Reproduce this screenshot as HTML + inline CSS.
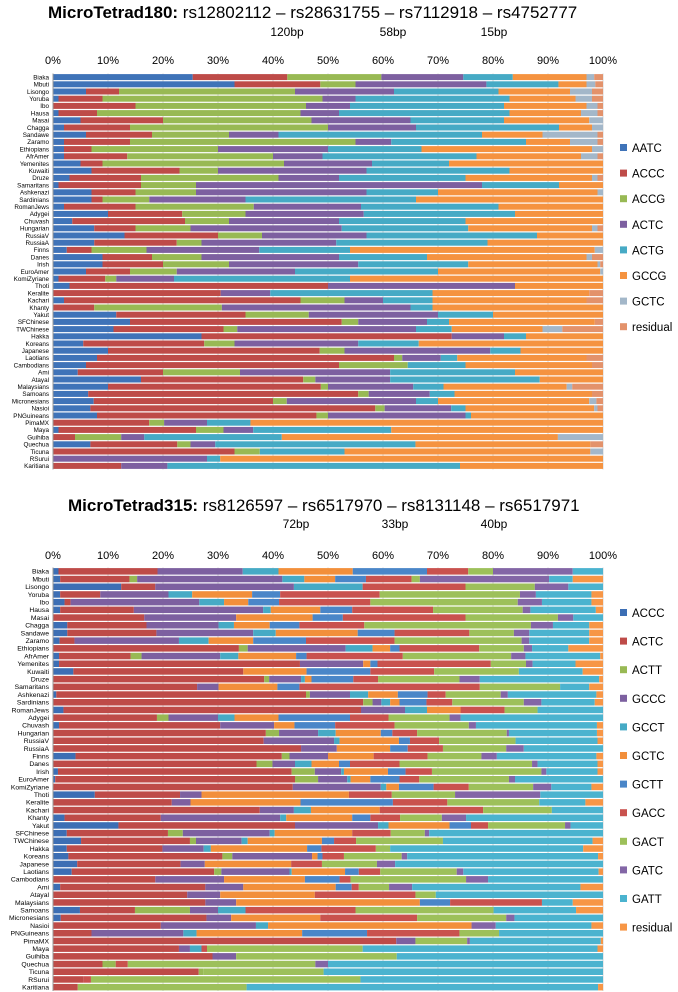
<!DOCTYPE html>
<html><head><meta charset="utf-8">
<style>
html,body{margin:0;padding:0;background:#fff;}
body{width:678px;height:992px;overflow:hidden;font-family:"Liberation Sans",sans-serif;}
svg{display:block;}
</style></head>
<body>
<svg id="chart" width="678" height="992" viewBox="0 0 678 992" xmlns="http://www.w3.org/2000/svg">
  <g>
    <text x="48" y="18" font-size="17" fill="#000"><tspan font-weight="bold">MicroTetrad180:</tspan> rs12802112 – rs28631755 – rs7112918 – rs4752777</text>
  </g>
  <g font-size="12" fill="#000" text-anchor="middle">
    <text x="287" y="36">120bp</text><text x="393" y="36">58bp</text><text x="494" y="36">15bp</text>
  </g>
  <g>
    <text x="68" y="511" font-size="17" fill="#000"><tspan font-weight="bold">MicroTetrad315:</tspan> rs8126597 – rs6517970 – rs8131148 – rs6517971</text>
  </g>
  <g font-size="12" fill="#000" text-anchor="middle">
    <text x="296" y="528">72bp</text><text x="395" y="528">33bp</text><text x="494" y="528">40bp</text>
  </g>
  <g id="c1"></g>
  <g id="c2"></g>
</svg>
<script>
const populations = ["Biaka","Mbuti","Lisongo","Yoruba","Ibo","Hausa","Masai","Chagga","Sandawe","Zaramo","Ethiopians","AfrAmer","Yemenites","Kuwaiti","Druze","Samaritans","Ashkenazi","Sardinians","RomanJews","Adygei","Chuvash","Hungarian","RussiaV","RussiaA","Finns","Danes","Irish","EuroAmer","KomiZyriane","Thoti","Keralite","Kachari","Khanty","Yakut","SFChinese","TWChinese","Hakka","Koreans","Japanese","Laotians","Cambodians","Ami","Atayal","Malaysians","Samoans","Micronesians","Nasioi","PNGuineans","PimaMX","Maya","Guihiba","Quechua","Ticuna","RSurui","Karitiana"];
const tickLabels = ["0%","10%","20%","30%","40%","50%","60%","70%","80%","90%","100%"];
const series180 = ["AATC","ACCC","ACCG","ACTC","ACTG","GCCG","GCTC","residual"];
const series315 = ["ACCC","ACTC","ACTT","GCCC","GCCT","GCTC","GCTT","GACC","GACT","GATC","GATT","residual"];
// cumulative % boundaries per population; final segment runs to 100
const cum180 = [
[25.4,42.6,59.7,74.6,83.6,97,98.4],[33,48.6,55,78.8,91.9,97,98.6],[6,12,44,62,81,94,98],
[1,9,49,55,83,95,98],[0,15,46,54,82,97,99],[1,8,45,52,83,96,99],[5,20,47,65,82,97.5,100],
[2,14,50,66,92,98,100],[6,18,32,41,78,89,99],[2,14,55,61.5,86,94,99],[2,7,30,50,67,98,100],
[2,13.5,40,49,77,96,99],[5,9,42,58,72,100,100],[7,23,30,57,83,100,100],[3,16,41,52,75,98,99],
[1,16,26,78,92,100,100],[7,15,26,57,70,99,100],[7,9,17.5,35,66,100,100],[2,15,36.5,56,81,100,100],
[10,23.5,35,56.5,84,100,100],[3.5,24,32,52,75,100,100],[7.5,15,25,52.5,75.5,98,99],[13,30,38,57,88,100,100],
[7.5,22.5,27,51.5,79,100,100],[2.5,7,17,37.5,54,98.5,100],[9,18,27,52,68,97,98],[9,20,32,55.5,75.5,99,99.5],
[6,14,22.5,44,70,99.5,100],[1,9.5,11.5,22,54,100,100],[3,50,50,84,84,100,100],[0,30.5,30.5,39.5,69,97.5,97.5],
[2,45,53,60,69,97,97],[0,7.5,30.7,65,69,100,100],[11.5,35,46.5,70,80,100,100],[14,52.5,55.5,68,72,98.5,98.5],
[11,31,33.5,66,72.5,89,92.6],[27,72.5,72.5,82,86,100,100],[5.5,27.5,33,55.5,66.5,100,100],[10,48.5,53,79.5,85,100,100],
[8,62,63.5,70.5,73.5,97,97],[6,52,64.5,64.5,75,98,98],[4.5,20,34,61.3,84,100,100],[16,45.5,47.7,61.3,88.5,100,100],
[10,48.7,50,65.5,71,93.4,94.4],[6.4,55.5,57.4,68.5,73,98,98],[7.4,40,42.5,66,70,97.5,98.8],[6.8,58.6,60.3,72.4,75,98.4,99],
[8,47.9,50,75,76,100,100],[0,17.5,20.2,28,35.9,100,100],[1,26,31,36.4,61.5,100,100],[0,4,12.4,16.6,41.6,91.8,100],
[6.8,22.6,25,29.5,65.9,97.7,97.7],[0,33,37.6,37.6,53,97.7,100],[0,0,0,28,30.4,100,100],[0,12.4,12.4,20.8,74,100,100]
];
const cum315 = [
[1,19,19,34.5,41,54.5,68,75.5,80,94.5,100],[1.3,13.9,15.3,41.7,45.7,51.3,56.9,65.2,66.7,90.2,94.5],
[12.4,18.6,18.6,43.8,56.3,56.3,56.3,75,87.6,93.7,100],[1.3,8.6,8.6,21,25.3,36.2,41.3,59.4,84.9,87.8,97.9],
[2.1,3.2,3.2,26.6,31.1,35.5,41.1,57.7,84.5,88.9,97.9],[1.3,14.7,14.7,38.2,39.6,48.6,54.4,69.1,85.4,86.8,98.7],
[0,16.6,16.6,33.3,33.3,47.2,52.7,75,91.8,94.6,100],[2.6,17,17,30.1,32.9,39.4,44.8,56.6,86.9,90.9,97.5],
[2.6,18.8,18.8,36.4,40.5,55.4,62.1,75.7,83.8,86.6,97.5],[1.2,3.9,3.9,22.9,28.3,36.4,46,62.1,85.2,86.6,97.5],
[0,33.8,35.4,53.2,58.1,61.3,63,77.5,85.6,87.1,93.7],[1.1,14.1,16.1,30.4,33.7,44.2,46.1,63.6,83.3,85.9,99.5],
[1.1,44.9,44.9,56.4,56.4,57.7,59,79.6,86,87.2,95],[3.7,34.6,34.6,34.6,34.6,46.1,57.7,69.3,84.7,84.7,96.3],
[0,38.4,39.3,45.1,45.8,47,54.6,59.1,73.9,77.6,99.3],[0,26.2,26.2,30.1,30.1,40.8,44.8,77.6,92.2,92.2,97.5],
[0.6,46,46.7,54,57.3,62.7,68.1,71.4,81.4,82.7,98.8],[0,56.4,58.1,59.7,61.3,63,67.9,72.6,85.6,88.8,98.5],
[1.9,56,56,64,68,74.1,74.1,82.1,88.1,88.1,100],[0,18.9,21,30,33,41,54,61,72.1,74.1,100],
[1.1,30.4,30.4,40.2,40.2,43.9,51.3,62.1,75.6,76.9,98.9],[0,38.7,41.1,48.2,51.4,59.6,61.7,66.2,82.5,82.9,98.9],
[0,38.3,38.3,51.1,52.1,62.9,64.9,70.2,84.1,84.1,99],[0,45.1,45.1,51.6,51.6,61.3,64.5,70.9,82.4,85.6,100],
[4.1,41.6,43,50,50,58.3,58.3,68.1,77.9,80.7,98.8],[0,37,39.9,44,47,52,54,63,87.1,88.1,99],
[0.9,43.4,47.6,52.4,52.9,60.9,64.1,68.9,88.8,89.7,99],[0.4,44,48.2,53.5,54.1,57.7,63,66.6,82.9,84,100],
[0,43.6,43.6,59.6,60.6,62.9,69.2,75.6,87.3,90.6,97.9],[7.6,23.1,23.1,27,27,53.8,53.8,61.6,73.1,88.6,100],
[0,21.6,21.6,25,25,45,61.8,71.7,88.4,88.4,96.8],[0,37.6,37.6,43.8,46.9,59.4,59.4,78.2,90.7,90.7,100],
[2.1,19.6,19.6,41.3,42.4,54.4,57.7,63.1,70.7,75.1,100],[11.9,44,44,59.1,61,72.1,76,79.1,93.1,94.1,100],
[2.5,20.9,23.6,39.4,40.3,54.4,54.4,61.4,67.6,68.4,100],[5.1,24.9,26,34.3,35.4,48.9,51.1,55.1,70.9,70.9,98.1],
[2.5,19.9,19.9,27.4,28.7,46.2,48.8,58.7,61.3,61.3,96.4],[2.8,30.8,32.6,47.1,47.1,48.1,49,52.9,63.4,64.4,99.1],
[4.4,23.2,23.2,27.6,27.6,43.3,43.3,48.9,58.9,62.2,100],[3.4,29.3,30.6,43,43.4,53.1,55.6,59.5,73.4,74.6,99.2],
[0,18.6,18.6,31.1,31.1,45.8,52.1,54.1,75.1,79.1,100],[1.3,27.7,27.7,34.6,34.6,51.4,54.3,55.6,61.1,65.3,95.9],
[0,24.4,24.4,30.4,30.4,47.6,47.6,65.9,69.6,69.6,100],[0,27.7,27.7,33.3,33.3,66.7,72.2,88.9,88.9,88.9,94.5],
[4.9,14.9,24.9,30,35,35,35,55,80.1,80.1,95.1],[1.4,27.9,27.9,32.4,32.4,48.6,48.6,66.2,82.4,83.9,100],
[0,19.6,19.6,36.9,39.1,76.1,76.1,76.1,76.1,80.5,97.9],[0,7,7,23.7,26.1,45.3,57.1,73.9,81.1,81.1,100],
[0,62.4,62.4,65.9,65.9,65.9,65.9,65.9,75.3,75.8,99.6],[0,22.9,22.9,24.9,27,27,27,28,56.3,56.3,99],
[0,29,29,33.3,33.3,33.3,33.3,33.3,62.5,62.5,100],[0,9,11.4,11.4,11.4,11.4,11.4,13.6,47.7,50,100],
[0,26.5,27.3,27.3,27.3,27.3,27.3,27.3,49.2,49.2,100],[0,5.6,5.6,5.6,5.6,5.6,5.6,6.9,55.9,55.9,100],
[0,4.5,4.5,4.5,4.5,4.5,4.5,4.5,35.2,35.2,99.1]
];
const colors180 = ["#3f73b8","#be4b48","#98b954","#7d60a0","#46aac5","#f59340","#a3b7c9","#e3926b"];
const colors315 = ["#3c6eb4","#be4b48","#98b954","#7d60a0","#46aac5","#f28f3b","#4a86c8","#c9524e","#9dc05a","#8366a6","#4bb3cf","#f79646"];

const NS = "http://www.w3.org/2000/svg";
function mk(tag, attrs, parent){const e=document.createElementNS(NS,tag);for(const k in attrs)e.setAttribute(k,attrs[k]);parent.appendChild(e);return e;}

function drawChart(g, cfg){
  const x = v => cfg.left + (cfg.right-cfg.left)*v/100;
  const y = i => cfg.top + i*cfg.pitch;
  // gridlines
  tickLabels.forEach((t,i)=>{
    const v=i*10;
    const gl=mk("line",{x1:x(v),x2:x(v),y1:cfg.top,y2:cfg.top+populations.length*cfg.pitch,stroke:"#d4d4d4","stroke-width":1},g);
    
    
    const tl=mk("text",{x:x(v),y:cfg.tickY,"font-size":11,"text-anchor":"middle",fill:"#000"},g);
    tl.textContent=t;
    
    
  });
  populations.forEach((p,i)=>{
    const lab=mk("text",{x:cfg.left-4,y:y(i)+cfg.pitch/2+2.3,"font-size":cfg.labelSize,"text-anchor":"end",fill:"#000"},g);
    lab.textContent=p;
    
    
    const row=cfg.cum[i];
    let prev=0;
    for(let s=0;s<cfg.series.length;s++){
      const end = s<row.length ? row[s] : 100;
      if(end>prev){
        const r=mk("rect",{x:x(prev),y:y(i)+cfg.gap/2,width:x(end)-x(prev),height:cfg.pitch-cfg.gap,fill:cfg.colors[s]},g);
        
        
      }
      prev=Math.max(prev,end);
    }
  });
  mk("line",{x1:x(0),x2:x(0),y1:cfg.top,y2:cfg.top+populations.length*cfg.pitch,stroke:"#999","stroke-width":1},g);
  cfg.series.forEach((s,i)=>{
    const ly=cfg.legTop+i*cfg.legPitch;
    const sq=mk("rect",{x:620,y:ly-4,width:7,height:7,fill:cfg.colors[i]},g);
    
    
    const lt=mk("text",{x:632,y:ly+4,"font-size":11.5,fill:"#000"},g);
    lt.textContent=s;
    
    
  });
}
drawChart(document.getElementById("c1"),{left:53,right:603,top:73.5,pitch:7.2,gap:1.2,tickY:64,labelSize:6.3,cum:cum180,series:series180,colors:colors180,legTop:148,legPitch:25.6});
drawChart(document.getElementById("c2"),{left:53,right:603,top:567.5,pitch:7.7,gap:1.2,tickY:559,labelSize:6.8,cum:cum315,series:series315,colors:colors315,legTop:613,legPitch:28.6});
</script>
</body></html>
